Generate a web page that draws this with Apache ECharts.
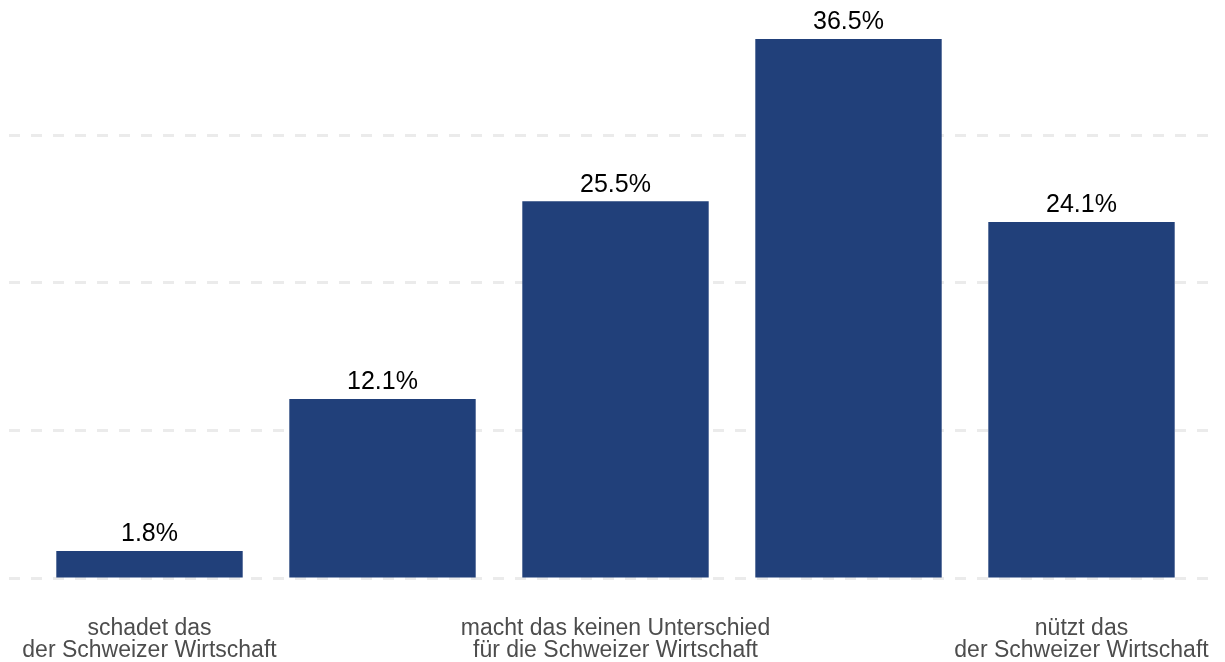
<!DOCTYPE html>
<html>
<head>
<meta charset="utf-8">
<script src="https://cdn.jsdelivr.net/npm/echarts@6/dist/echarts.min.js"></script>
<style>
html,body{margin:0;padding:0;background:#fff;}
#chart{width:1225px;height:662px;}
</style>
</head>
<body>
<div id="chart"></div>
<script>
var categories = [
  "schadet das\nder Schweizer Wirtschaft",
  "",
  "macht das keinen Unterschied\nfür die Schweizer Wirtschaft",
  "",
  "nützt das\nder Schweizer Wirtschaft"
];
var values = [1.8, 12.1, 25.5, 36.5, 24.1];
var yMax = 36.5;
var yInterval = 10;

var chart = echarts.init(document.getElementById('chart'));
chart.setOption({
  animation: false,
  backgroundColor: '#ffffff',
  grid: [
    {left: 33, right: 27, top: 39, bottom: 84, containLabel: false},
    {left: 9, right: 10, top: 39, bottom: 84, containLabel: false}
  ],
  xAxis: [
    {
      type: 'category', gridIndex: 0, data: categories,
      axisLine: {show: false}, axisTick: {show: false},
      axisLabel: {
        interval: 0, margin: 40, color: '#4d4d4d',
        fontFamily: 'Liberation Sans, Arial, sans-serif', fontSize: 23, lineHeight: 22
      },
      splitLine: {show: false}
    },
    {
      type: 'category', gridIndex: 1, data: ['a'],
      show: false
    }
  ],
  yAxis: [
    {
      type: 'value', gridIndex: 0, min: 0, max: yMax, interval: yInterval,
      axisLine: {show: false}, axisTick: {show: false}, axisLabel: {show: false},
      splitLine: {show: false}
    },
    {
      type: 'value', gridIndex: 1, min: 0, max: yMax, interval: yInterval,
      axisLine: {show: false}, axisTick: {show: false}, axisLabel: {show: false},
      splitLine: {
        show: true, showMaxLine: false,
        lineStyle: {color: '#ebebeb', width: 3, type: [11, 11]}
      }
    }
  ],
  series: [
    {
      type: 'bar', xAxisIndex: 0, yAxisIndex: 0, data: values,
      barCategoryGap: '20%', z: 5,
      itemStyle: {color: '#21407a'},
      label: {
        show: true, position: 'top', distance: 4,
        formatter: function (p) { return p.value.toFixed(1) + '%'; },
        color: '#000000', fontFamily: 'Liberation Sans, Arial, sans-serif', fontSize: 25
      }
    }
  ]
});
</script>
</body>
</html>
